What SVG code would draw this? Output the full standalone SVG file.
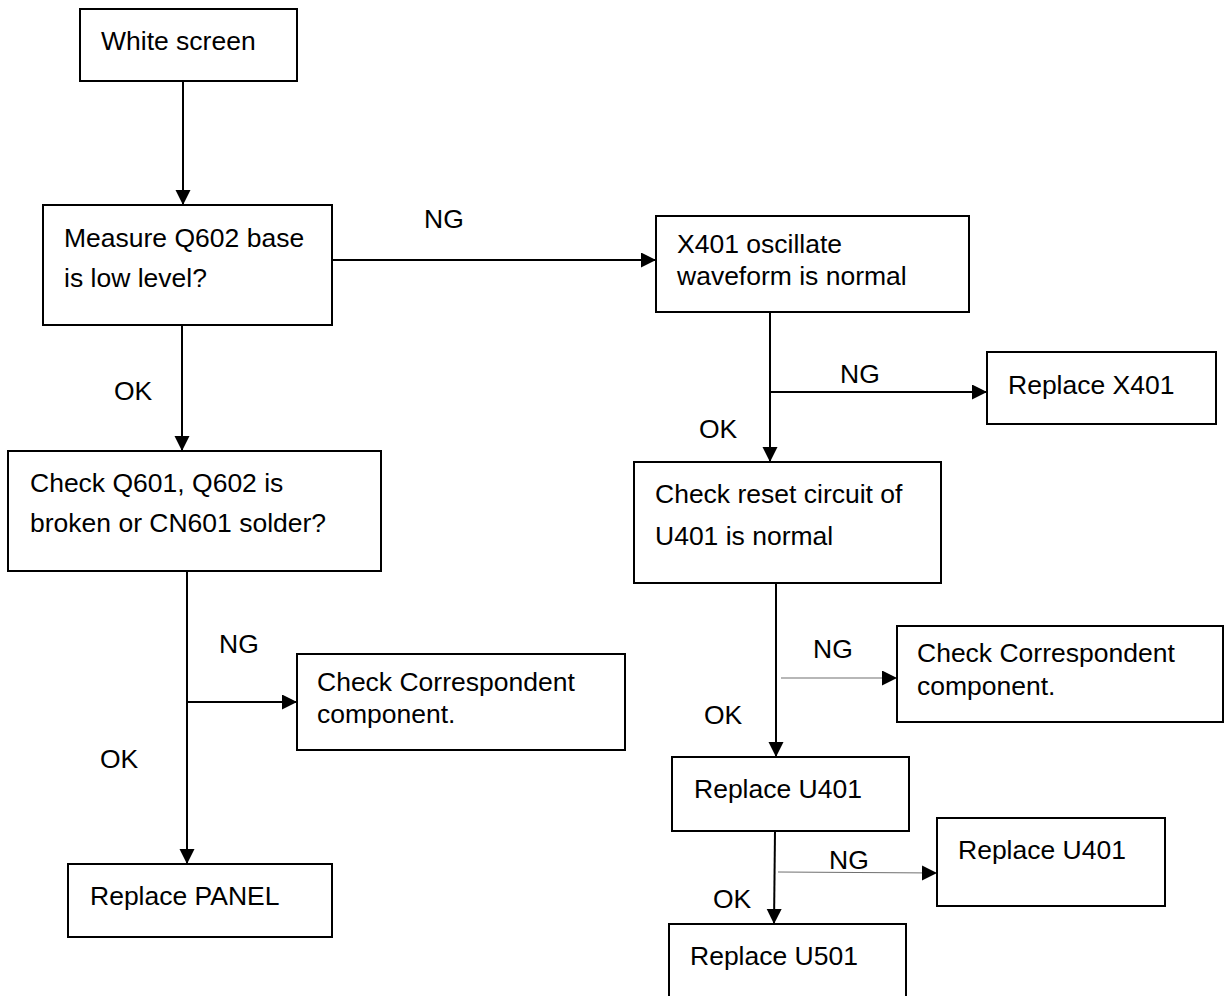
<svg xmlns="http://www.w3.org/2000/svg" width="1228" height="996" viewBox="0 0 1228 996">
<style>
.box{fill:#fff;stroke:#000;stroke-width:2}
.t{font-family:"Liberation Sans",Arial,sans-serif;font-size:26.5px;fill:#000}
.c{fill:none;stroke:#000;stroke-width:2}
.thin{fill:none;stroke:#707070;stroke-width:1.2}
</style>
<defs>
<marker id="ah" markerUnits="userSpaceOnUse" markerWidth="16" markerHeight="16" refX="15" refY="7.5" orient="auto" viewBox="0 0 16 16">
<path d="M0,0 L15,7.5 L0,15 z" fill="#000"/>
</marker>
</defs>
<rect width="1228" height="996" fill="#fff"/>
<g id="connectors">
<path class="c" d="M183,81 V205" marker-end="url(#ah)"/>
<path class="c" d="M332,260 H656" marker-end="url(#ah)"/>
<path class="c" d="M182,325 V451" marker-end="url(#ah)"/>
<path class="c" d="M770,312 V462" marker-end="url(#ah)"/>
<path class="c" d="M770,392 H987" marker-end="url(#ah)"/>
<path class="c" d="M187,571 V864" marker-end="url(#ah)"/>
<path class="c" d="M187,702 H297" marker-end="url(#ah)"/>
<path class="c" d="M776,583 V757" marker-end="url(#ah)"/>
<path class="thin" d="M781,678 H897" marker-end="url(#ah)"/>
<path class="c" d="M775,831 L774,924" marker-end="url(#ah)"/>
<path class="thin" d="M778,872 L937,873" marker-end="url(#ah)"/>
<text class="t" x="424" y="228">NG</text>
<text class="t" x="114" y="400">OK</text>
<text class="t" x="840" y="383">NG</text>
<text class="t" x="699" y="438">OK</text>
<text class="t" x="219" y="653">NG</text>
<text class="t" x="100" y="768">OK</text>
<text class="t" x="813" y="658">NG</text>
<text class="t" x="704" y="724">OK</text>
<text class="t" x="829" y="869">NG</text>
<text class="t" x="713" y="908">OK</text>
</g>
<g id="white-screen">
<rect class="box" x="80" y="9" width="217" height="72"/>
<text class="t" x="101" y="50">White screen</text>
</g>
<g id="measure-q602">
<rect class="box" x="43" y="205" width="289" height="120"/>
<text class="t" x="64" y="247">Measure Q602 base</text>
<text class="t" x="64" y="287">is low level?</text>
</g>
<g id="x401-oscillate">
<rect class="box" x="656" y="216" width="313" height="96"/>
<text class="t" x="677" y="253">X401 oscillate</text>
<text class="t" x="677" y="285">waveform is normal</text>
</g>
<g id="replace-x401">
<rect class="box" x="987" y="352" width="229" height="72"/>
<text class="t" x="1008" y="394">Replace X401</text>
</g>
<g id="check-q601">
<rect class="box" x="8" y="451" width="373" height="120"/>
<text class="t" x="30" y="492">Check Q601, Q602 is</text>
<text class="t" x="30" y="532">broken or CN601 solder?</text>
</g>
<g id="check-reset">
<rect class="box" x="634" y="462" width="307" height="121"/>
<text class="t" x="655" y="503">Check reset circuit of</text>
<text class="t" x="655" y="545">U401 is normal</text>
</g>
<g id="check-corr-left">
<rect class="box" x="297" y="654" width="328" height="96"/>
<text class="t" x="317" y="691">Check Correspondent</text>
<text class="t" x="317" y="723">component.</text>
</g>
<g id="check-corr-right">
<rect class="box" x="897" y="626" width="326" height="96"/>
<text class="t" x="917" y="662">Check Correspondent</text>
<text class="t" x="917" y="695">component.</text>
</g>
<g id="replace-u401-a">
<rect class="box" x="672" y="757" width="237" height="74"/>
<text class="t" x="694" y="798">Replace U401</text>
</g>
<g id="replace-u401-b">
<rect class="box" x="937" y="818" width="228" height="88"/>
<text class="t" x="958" y="859">Replace U401</text>
</g>
<g id="replace-panel">
<rect class="box" x="68" y="864" width="264" height="73"/>
<text class="t" x="90" y="905">Replace PANEL</text>
</g>
<g id="replace-u501">
<rect class="box" x="669" y="924" width="237" height="80"/>
<text class="t" x="690" y="965">Replace U501</text>
</g>
</svg>
